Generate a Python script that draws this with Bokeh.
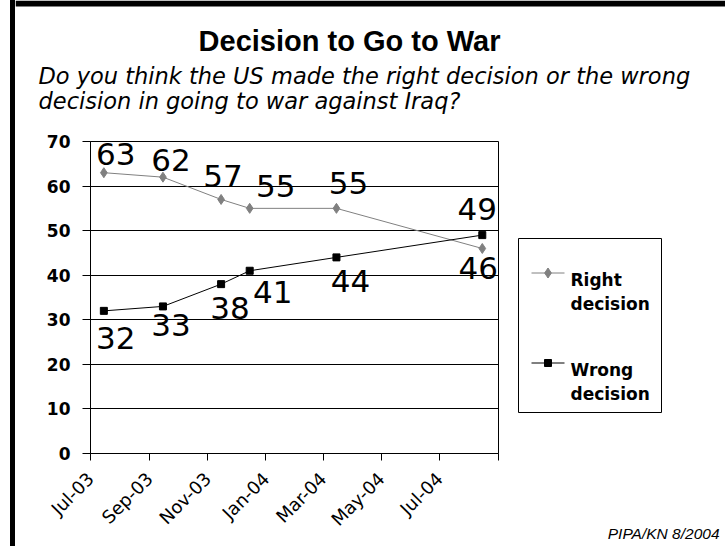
import math
import pandas as pd
from bokeh.plotting import figure
from bokeh.layouts import column, row
from bokeh.core.properties import value
from bokeh.models import ColumnDataSource, Range1d, FixedTicker, LabelSet, Div
from bokeh.embed import file_html
from bokeh.resources import INLINE

# ---------------- data ----------------
survey_dates = ["2003-07-15", "2003-09-15", "2003-11-15", "2003-12-15", "2004-03-15", "2004-08-15"]
right_decision = [63, 62, 57, 55, 55, 46]
wrong_decision = [32, 33, 38, 41, 44, 49]
tick_dates = ["2003-07-01", "2003-09-01", "2003-11-01", "2004-01-01",
              "2004-03-01", "2004-05-01", "2004-07-01", "2004-09-01"]
tick_labels = ["Jul-03", "Sep-03", "Nov-03", "Jan-04", "Mar-04", "May-04", "Jul-04", ""]
y_ticks = [0, 10, 20, 30, 40, 50, 60, 70]
series_names = ["Right decision", "Wrong decision"]
title_text = "Decision to Go to War"
subtitle_lines = ["Do you think the US made the right decision or the wrong",
                  "decision in going to war against Iraq?"]
source_note = "PIPA/KN 8/2004"

# ---------------- label placement (pixel offsets, styling only) ----------------
right_dx = [12, 8, 2, 26, 12, -4]
right_dy = [8, 6, 12, 11, 14, -31]
wrong_dx = [12, 8, 9, 23, 14, -5]
wrong_dy = [-38, -30, -35, -32, -35, 15]

origin = pd.Timestamp(tick_dates[0])


def day_index(dates):
    return [(pd.Timestamp(d) - origin).days for d in dates]


xs = day_index(survey_dates)
tx = day_index(tick_dates)

FONT = "DejaVu Sans"
BLACK = "black"
GRAY = "#808080"
RIGHT_STYLE = dict(color=GRAY, marker="diamond", size=10)
WRONG_STYLE = dict(color=BLACK, marker="square", size=7)


def blank_fig(w, h, xr, yr):
    f = figure(width=w, height=h, x_range=xr, y_range=yr, output_backend="svg",
               toolbar_location=None, min_border=0, x_axis_location=None, y_axis_location=None,
               outline_line_color=None, background_fill_color="white", border_fill_color="white")
    f.grid.visible = False
    return f


# ---------------- left frame strip (page x 0..15, full height) ----------------
left_edge = Div(width=15, height=546, margin=0,
                text='<div style="margin-left:10px;width:5px;height:546px;background:#000"></div>')

# ---------------- header (page x 15..725, y 0..130): title + question, top frame ----------------
header = blank_fig(710, 130, Range1d(15, 725), Range1d(130, 0))
header.quad(left=[15], right=[725], top=[0], bottom=[6], fill_color=BLACK, line_color=None)
header.text(x=[349], y=[40], text=[title_text], text_align="center", text_baseline="alphabetic",
            text_font=value("Liberation Sans"), text_font_style="bold",
            text_font_size=value("29px"), text_color=BLACK)
header.text(x=[38, 38], y=[75, 100], text=subtitle_lines, text_align="left",
            text_baseline="alphabetic", text_font=value(FONT), text_font_style="italic",
            text_font_size=value("22.5px"), text_color=BLACK)

# ---------------- main chart (page x 15..499, y 130..540; frame 90..498 x 141..456) ----------------
p = figure(width=484, height=410, output_backend="svg", toolbar_location=None,
           x_range=Range1d(tx[0], tx[-1]), y_range=Range1d(0, 70),
           min_border_left=75, min_border_right=1, min_border_top=11, min_border_bottom=84,
           background_fill_color="white", border_fill_color="white")
p.outline_line_color = BLACK
p.outline_line_width = 1

xa = p.xaxis[0]
xa.ticker = FixedTicker(ticks=tx)
xa.major_label_overrides = {t: l for t, l in zip(tx, tick_labels)}
xa.major_label_orientation = math.pi / 4
xa.major_label_text_font = FONT
xa.major_label_text_font_size = "18px"
xa.major_label_text_color = BLACK
xa.major_tick_out = 7
xa.major_tick_in = 0
xa.minor_tick_line_color = None
xa.axis_line_color = BLACK
xa.major_tick_line_color = BLACK
xa.major_label_standoff = 15

ya = p.yaxis[0]
ya.ticker = FixedTicker(ticks=y_ticks)
ya.major_label_text_font = FONT
ya.major_label_text_font_style = "bold"
ya.major_label_text_font_size = "17px"
ya.major_label_text_color = BLACK
ya.major_tick_out = 8
ya.major_tick_in = 0
ya.minor_tick_line_color = None
ya.axis_line_color = BLACK
ya.major_tick_line_color = BLACK
ya.major_label_standoff = 12

p.xgrid.visible = False
p.ygrid.grid_line_color = BLACK
p.ygrid.grid_line_width = 1
p.ygrid.ticker = FixedTicker(ticks=y_ticks)

src = ColumnDataSource(dict(
    x=xs, right=right_decision, wrong=wrong_decision,
    rl=[str(v) for v in right_decision], wl=[str(v) for v in wrong_decision],
    rdx=right_dx, rdy=right_dy, wdx=wrong_dx, wdy=wrong_dy))

for col, st in (("right", RIGHT_STYLE), ("wrong", WRONG_STYLE)):
    p.line("x", col, source=src, line_color=st["color"], line_width=1)
    p.scatter("x", col, source=src, marker=st["marker"], size=st["size"],
              fill_color=st["color"], line_color=st["color"])

for ycol, tcol, dx, dy in (("right", "rl", "rdx", "rdy"), ("wrong", "wl", "wdx", "wdy")):
    p.add_layout(LabelSet(x="x", y=ycol, text=tcol, x_offset=dx, y_offset=dy, source=src,
                          text_align="center", text_baseline="alphabetic",
                          text_font=value(FONT), text_font_size=value("31px"),
                          text_color=BLACK))

# ---------------- right column (page x 499..725, y 130..540): legend + source note ----------------
side = blank_fig(226, 410, Range1d(499, 725), Range1d(540, 130))
side.quad(left=[518], right=[661], top=[238], bottom=[412],
          fill_color="white", line_color=BLACK, line_width=1)
entry_y = [272.5, 362.5]          # legend entry rows (page pixels)
for name, st, yy in zip(series_names, (RIGHT_STYLE, WRONG_STYLE), entry_y):
    side.segment(x0=[531], x1=[564], y0=[yy], y1=[yy], line_color=st["color"], line_width=1)
    side.scatter(x=[547.5], y=[yy], marker=st["marker"], size=st["size"],
                 fill_color=st["color"], line_color=st["color"])
    first, second = name.split(" ", 1)
    side.text(x=[570, 570], y=[yy + 6.5, yy + 30.5], text=[first, second],
              text_align="left", text_baseline="alphabetic", text_font=value(FONT),
              text_font_style="bold", text_font_size=value("17px"), text_color=BLACK)
side.text(x=[719], y=[533], text=[source_note], text_align="right", text_baseline="alphabetic",
          text_font=value("Liberation Sans"), text_font_style="italic",
          text_font_size=value("15.5px"), text_color=BLACK)

# ---------------- bottom frame (page y 540..546) ----------------
bottom_edge = Div(width=710, height=6, margin=0,
                  text='<div style="width:710px;height:6px;background:#000"></div>')

layout = row(left_edge,
             column(header, row(column(p), column(side), spacing=0), bottom_edge, spacing=0),
             spacing=0)

open("out.html", "w").write(file_html(layout, INLINE))
